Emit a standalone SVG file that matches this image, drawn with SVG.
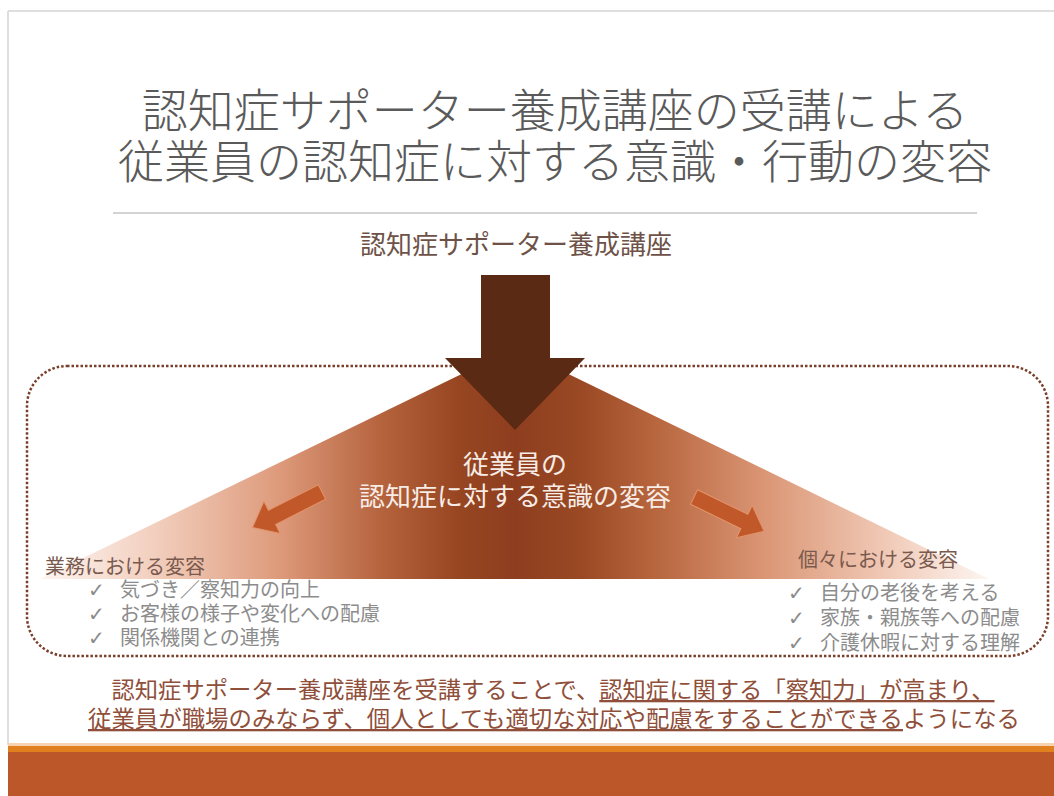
<svg xmlns="http://www.w3.org/2000/svg" width="1054" height="796" viewBox="0 0 1054 796">
<defs>
<style>
.jp{font-family:"Noto Sans CJK JP","Noto Sans CJK SC",sans-serif;}
.title{font-size:46px;fill:#5a5a5a;text-anchor:middle;font-weight:300;}
.sub{font-size:26px;fill:#6e5247;text-anchor:middle;}
.center{font-size:26px;fill:#f7ece6;text-anchor:middle;}
.head{font-size:20px;fill:#7a5a4e;}
.item{font-size:20px;fill:#8c8c8c;}
.chk{font-size:20px;fill:#8c8c8c;font-family:"DejaVu Sans",sans-serif;}
.bottom{font-size:23px;fill:#8f4f3a;text-anchor:middle;}
.u{text-decoration:underline;}
.sarrow{fill:#c0582a;stroke:#e3946c;stroke-width:1;}
</style>
<linearGradient id="tri" gradientUnits="userSpaceOnUse" x1="40" y1="0" x2="990" y2="0">
<stop offset="0" stop-color="#fdf5f1"/>
<stop offset="0.12" stop-color="#f2cfbe"/>
<stop offset="0.25" stop-color="#de9b7c"/>
<stop offset="0.36" stop-color="#b5633d"/>
<stop offset="0.44" stop-color="#974621"/>
<stop offset="0.5" stop-color="#8e3e1f"/>
<stop offset="0.57" stop-color="#9a4924"/>
<stop offset="0.65" stop-color="#b8673f"/>
<stop offset="0.76" stop-color="#da9574"/>
<stop offset="0.88" stop-color="#efc5b1"/>
<stop offset="1" stop-color="#fdf6f2"/>
</linearGradient>
</defs>
<rect x="0" y="0" width="1054" height="796" fill="#ffffff"/>
<g id="slide-frame">
<line x1="8" y1="11" x2="1054" y2="11" stroke="#d4d4d4" stroke-width="1.5"/>
<line x1="8" y1="11" x2="8" y2="745" stroke="#d4d4d4" stroke-width="1.5"/>
<rect x="8" y="743" width="1046" height="4" fill="#f6d2b0"/>
<rect x="8" y="746" width="1046" height="7" fill="#e0801e"/>
<rect x="8" y="752" width="1046" height="44" fill="#bb5729"/>
</g>
<g id="title">
<text class="jp title" x="555" y="127">認知症サポーター養成講座の受講による</text>
<text class="jp title" x="555" y="178">従業員の認知症に対する意識・行動の変容</text>
<line x1="113" y1="213" x2="977" y2="213" stroke="#c4c4c4" stroke-width="1.5"/>
</g>
<g id="frame-dotted">
<rect x="27" y="366" width="1021" height="290" rx="40" ry="40" fill="none" stroke="#7a3f2a" stroke-width="2.5" stroke-dasharray="2.5 2"/>
</g>
<g id="triangle">
<polygon points="515,348 40,579 989,579" fill="url(#tri)"/>
<text class="jp center" x="515" y="474">従業員の</text>
<text class="jp center" x="515" y="506">認知症に対する意識の変容</text>
</g>
<g id="source">
<text class="jp sub" x="516" y="254">認知症サポーター養成講座</text>
</g>
<g id="connectors">
<polygon id="main-arrow" points="481,275 550,275 550,358 585,358 515,430 445,358 481,358" fill="#5b2a14"/>
<polygon class="sarrow" transform="translate(322,492) rotate(153)" points="0,-8 56,-8 56,-18 78,0 56,18 56,8 0,8"/>
<polygon class="sarrow" transform="translate(694,497) rotate(26)" points="0,-8 56,-8 56,-18 78,0 56,18 56,8 0,8"/>
</g>
<g id="work">
<text class="jp head" x="45" y="574">業務における変容</text>
<text class="chk" x="88" y="597">✓</text>
<text class="jp item" x="120" y="597">気づき／察知力の向上</text>
<text class="chk" x="88" y="621">✓</text>
<text class="jp item" x="120" y="621">お客様の様子や変化への配慮</text>
<text class="chk" x="88" y="645">✓</text>
<text class="jp item" x="120" y="645">関係機関との連携</text>
</g>
<g id="personal">
<text class="jp head" x="798" y="567">個々における変容</text>
<text class="chk" x="788" y="600">✓</text>
<text class="jp item" x="820" y="600">自分の老後を考える</text>
<text class="chk" x="788" y="625">✓</text>
<text class="jp item" x="820" y="625">家族・親族等への配慮</text>
<text class="chk" x="788" y="650">✓</text>
<text class="jp item" x="820" y="650">介護休暇に対する理解</text>
</g>
<g id="summary">
<text class="jp bottom" x="553" y="698" textLength="883" lengthAdjust="spacingAndGlyphs">認知症サポーター養成講座を受講することで、<tspan class="u">認知症に関する「察知力」が高まり、</tspan></text>
<text class="jp bottom" x="554" y="727" textLength="932" lengthAdjust="spacingAndGlyphs"><tspan class="u">従業員が職場のみならず、個人としても適切な対応や配慮をすることができる</tspan>ようになる</text>
</g>
</svg>
